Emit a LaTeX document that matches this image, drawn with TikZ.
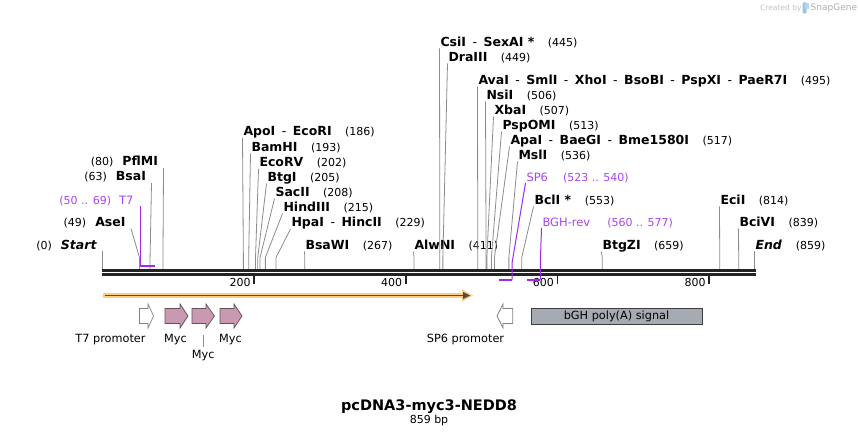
\documentclass[tikz,border=0pt]{standalone}
\usepackage{fontspec}
\setmainfont{DejaVu Sans}
\usetikzlibrary{arrows.meta}
\definecolor{enzline}{RGB}{140,140,140}
\definecolor{primer}{RGB}{160,40,240}
\definecolor{primertext}{RGB}{170,70,240}
\definecolor{bbone}{RGB}{35,35,35}
\definecolor{mycfill}{RGB}{201,153,178}
\definecolor{mycdraw}{RGB}{100,80,90}
\definecolor{promdraw}{RGB}{130,130,130}
\definecolor{polyfill}{RGB}{166,170,178}
\definecolor{polydraw}{RGB}{60,60,60}
\definecolor{orfhalo}{RGB}{250,205,130}
\definecolor{orfline}{RGB}{85,75,65}
\definecolor{wmgray}{RGB}{195,195,195}
\definecolor{wmblue}{RGB}{150,200,230}
\tikzset{
  ename/.style={inner sep=0pt, outer sep=0pt, font=\fontsize{12.5}{14}\selectfont\bfseries},
  enum/.style={inner sep=0pt, outer sep=0pt, font=\fontsize{11}{13}\selectfont},
  pname/.style={inner sep=0pt, outer sep=0pt, text=primertext, font=\fontsize{11.5}{13}\selectfont},
  pnum/.style={inner sep=0pt, outer sep=0pt, text=primertext, font=\fontsize{11}{13}\selectfont},
  flabel/.style={inner sep=0pt, outer sep=0pt, font=\fontsize{11.3}{13}\selectfont},
  cutline/.style={draw=enzline, line width=0.8pt},
  primline/.style={draw=primer, line width=1pt},
  primbar/.style={draw=primer, line width=2pt},
  backbone/.style={draw=bbone, line width=2.7pt},
  tickmark/.style={draw=bbone, line width=1.8pt},
  mycarrow/.style={fill=mycfill, draw=mycdraw, line width=0.7pt},
  promarrow/.style={fill=white, draw=promdraw, line width=0.7pt},
}
% separator between isoschizomer names
\newcommand\esep{\hspace{6.5pt}{\mdseries -}\hspace{6.5pt}}
% right-side enzyme label: id, text-left x, y centre, name, number, site (bp)
\newcommand\rsite[6]{%
  \node[ename, anchor=base west] (#1) at (#2, #3+4.5) {#4};
  \node[enum, anchor=base west] (#1n) at ([xshift=13.5pt]#1.base east) {(#5)};
  \coordinate (#1t) at (#2-1, #3+6.5);
  \coordinate (#1b) at (102.3+0.7585*#6, 257.5);
  \coordinate (#1s) at (102.3+0.7585*#6, 269);
  \draw[cutline] (#1t) -- (#1b) -- (#1s);
}
% left-side enzyme label: id, text-right x, y centre, name, number, site (bp)
\newcommand\lsite[6]{%
  \node[ename, anchor=base east] (#1) at (#2, #3+4.5) {#4};
  \node[enum, anchor=base east] (#1n) at ([xshift=-9pt]#1.base west) {(#5)};
  \coordinate (#1t) at (#2+5.5, #3+6.5);
  \coordinate (#1b) at (102.3+0.7585*#6, 257.5);
  \coordinate (#1s) at (102.3+0.7585*#6, 269);
  \draw[cutline] (#1t) -- (#1b) -- (#1s);
}
\newcommand\fwdarrow[5]{% id, x0, xhead, xtip, style
  \draw[#5] (#2,308.5) -- (#3,308.5) -- (#3,304) -- (#4,316) -- (#3,328) -- (#3,323.5) -- (#2,323.5) -- cycle;
  \coordinate (#1) at ({(#2+#4)/2},316);
}
\begin{document}
\begin{tikzpicture}[x=1pt,y=-1pt]
\useasboundingbox (0,0) rectangle (858,435);
\fill[white] (0,0) rectangle (858,435);

% watermark
\node[inner sep=0pt, anchor=base west, text=wmgray, font=\fontsize{7.5}{9}\selectfont] (wm1) at (760,10.5) {Created by};
\fill[wmblue, rounded corners=1pt] (802.5,2.5) rectangle (806.5,13.5);
\fill[wmblue!70, rounded corners=1pt] (805,3) rectangle (809,9);
\node[inner sep=0pt, anchor=base west, text=wmgray!90!black, font=\fontsize{9}{10}\selectfont] (wm2) at (810.5,11) {SnapGene};

% backbone
\coordinate (bbL1) at (102,270.2); \coordinate (bbR1) at (755.5,270.2);
\coordinate (bbL2) at (102,274.7); \coordinate (bbR2) at (755.5,274.7);
\draw[backbone] (bbL1) -- (bbR1);
\draw[backbone] (bbL2) -- (bbR2);

% ticks
\foreach \v in {200,400,600,800} {
  \coordinate (tk\v a) at (102.3+0.7585*\v, 276);
  \coordinate (tk\v b) at (102.3+0.7585*\v, 283.5);
  \draw[tickmark] (tk\v a) -- (tk\v b);
  \node[enum, anchor=base east] (tl\v) at (102.3+0.7585*\v-3.5, 287) {\v};
}

% left-side labels
\node[ename, anchor=base east, font=\fontsize{12.5}{14}\selectfont\bfseries\itshape] (start) at (96.5,249.5) {Start};
\node[enum, anchor=base east] (startn) at ([xshift=-9pt]start.base west) {(0)};
\coordinate (startt) at (102.3,251); \coordinate (starts) at (102.3,269);
\draw[cutline] (startt) -- (starts);
\lsite{ase}{125.5}{222}{AseI}{49}{49}
\lsite{bsa}{146}{176.5}{BsaI}{63}{63}
\lsite{pfl}{158}{161.5}{PflMI}{80}{80}

% T7 primer
\node[pname, anchor=base east] (t7) at (133.5,204.5) {T7};
\node[pnum, anchor=base east] (t7n) at ([xshift=-8pt]t7.base west) {(50 .. 69)};
\coordinate (t7t) at (140.2,206); \coordinate (t7a) at (140.2,266); \coordinate (t7c) at (154.6,266);
\draw[primline] (t7t) -- (t7a);
\draw[primbar] (t7a) -- (t7c);

% right-side labels, first cluster
\rsite{apo}{243.5}{131.5}{ApoI\esep EcoRI}{186}{186}
\rsite{bam}{251.5}{147}{BamHI}{193}{193}
\rsite{ecv}{259.5}{162.5}{EcoRV}{202}{202}
\rsite{btg}{267.5}{177}{BtgI}{205}{205}
\rsite{sac}{275.5}{192}{SacII}{208}{208}
\rsite{hin}{283.5}{207}{HindIII}{215}{215}
\rsite{hpa}{291.5}{222.5}{HpaI\esep HincII}{229}{229}
\rsite{bsw}{305.5}{245}{BsaWI}{267}{267}
\rsite{alw}{414.5}{245}{AlwNI}{411}{411}

% second cluster
\rsite{csi}{440.5}{42}{CsiI\esep SexAI *}{445}{445}
\rsite{dra}{448.5}{57}{DraIII}{449}{449}
\rsite{ava}{478.5}{80}{AvaI\esep SmlI\esep XhoI\esep BsoBI\esep PspXI\esep PaeR7I}{495}{495}
\rsite{nsi}{486.5}{95}{NsiI}{506}{506}
\rsite{xba}{494.5}{110}{XbaI}{507}{507}
\rsite{psp}{502.5}{125}{PspOMI}{513}{513}
\rsite{apa}{510.5}{140}{ApaI\esep BaeGI\esep Bme1580I}{517}{517}
\rsite{msl}{518.5}{155}{MslI}{536}{536}
\rsite{bcl}{534.5}{200}{BclI *}{553}{553}
\rsite{bgz}{602.5}{245}{BtgZI}{659}{659}
\rsite{eci}{720.5}{200}{EciI}{814}{814}
\rsite{bcv}{739.5}{222}{BciVI}{839}{839}
\node[ename, anchor=base west, font=\fontsize{12.5}{14}\selectfont\bfseries\itshape] (endl) at (755.5,249.5) {End};
\node[enum, anchor=base west] (endn) at ([xshift=14pt]endl.base east) {(859)};
\coordinate (endt) at (754.5,251); \coordinate (ends) at (754.5,269);
\draw[cutline] (endt) -- (ends);

% SP6 primer
\node[pname, anchor=base west] (sp6) at (526.5,181.5) {SP6};
\node[pnum, anchor=base west] (sp6n) at ([xshift=15pt]sp6.base east) {(523 .. 540)};
\coordinate (sp6t) at (525.5,183); \coordinate (sp6b) at (512.2,262);
\coordinate (sp6a) at (512.2,279.5); \coordinate (sp6c) at (499,279.5);
\draw[primline] (sp6t) -- (sp6b) -- (sp6a);
\draw[primbar] (sp6c) -- (sp6a);

% BGH-rev primer
\node[pname, anchor=base west] (bgh) at (542.5,226.5) {BGH-rev};
\node[pnum, anchor=base west] (bghn) at ([xshift=17pt]bgh.base east) {(560 .. 577)};
\coordinate (bght) at (541.5,228); \coordinate (bghb) at (540.3,262);
\coordinate (bgha) at (540.3,279.5); \coordinate (bghc) at (527.1,279.5);
\draw[primline] (bght) -- (bghb) -- (bgha);
\draw[primbar] (bghc) -- (bgha);

% ORF arrow
\coordinate (orfA) at (103,295.5); \coordinate (orfB) at (467,295.5);
\draw[orfhalo, line width=5pt] (orfA) -- (orfB);
\fill[orfhalo] (462,289.5) -- (473,295.5) -- (462,301.5) -- cycle;
\draw[orfline, line width=1.5pt] (104.5,295.5) -- (464,295.5);
\fill[orfline] (463,292) -- (470,295.5) -- (463,299) -- cycle;

% features
\fwdarrow{t7p}{139.5}{148}{153.5}{promarrow}
\fwdarrow{myc1}{165}{180}{188}{mycarrow}
\fwdarrow{myc2}{192}{206}{214.5}{mycarrow}
\fwdarrow{myc3}{220}{234}{242}{mycarrow}
\draw[promarrow] (512.7,308.5) -- (503,308.5) -- (503,304) -- (497,316) -- (503,328) -- (503,323.5) -- (512.7,323.5) -- cycle;
\coordinate (sp6p) at (505,316);
\node[draw=polydraw, fill=polyfill, line width=0.8pt, minimum width=171pt, minimum height=16pt, inner sep=0pt, font=\fontsize{11.3}{13}\selectfont] (bgha2) at (616.5,316.3) {bGH poly(A) signal};

% feature labels
\node[flabel, anchor=base] (t7pl) at (110.5,342) {T7 promoter};
\node[flabel, anchor=base] (myc1l) at (175.5,342) {Myc};
\node[flabel, anchor=base] (myc2l) at (203.3,358) {Myc};
\node[flabel, anchor=base] (myc3l) at (230.5,342) {Myc};
\node[flabel, anchor=base] (sp6pl) at (465.5,342) {SP6 promoter};
\coordinate (m2a) at (203.3,335); \coordinate (m2b) at (203.3,346.5);
\draw[enzline, line width=0.8pt] (m2a) -- (m2b);

% title
\node[inner sep=0pt, anchor=base, font=\fontsize{14.5}{16}\selectfont\bfseries] (title) at (429,410) {pcDNA3-myc3-NEDD8};
\node[inner sep=0pt, anchor=base, font=\fontsize{11}{13}\selectfont] (len) at (429,423.5) {859 bp};
\end{tikzpicture}
\end{document}
